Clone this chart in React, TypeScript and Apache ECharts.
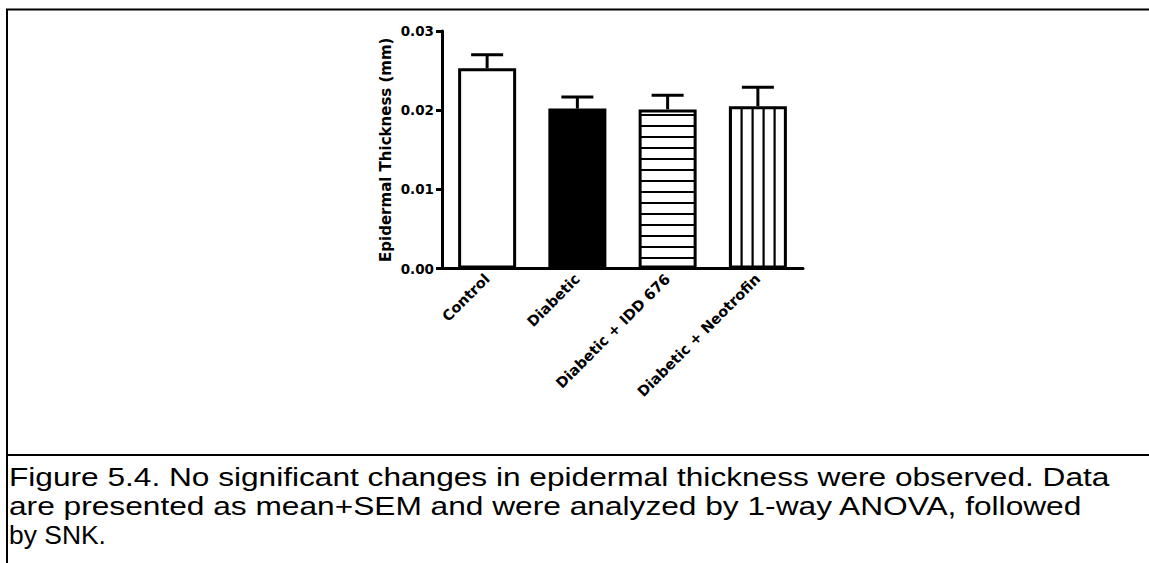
import React, { useEffect, useRef } from "react";
import * as echarts from "echarts";

// Groups, group means and standard errors (mm)
const categories = ["Control", "Diabetic", "Diabetic + IDD 676", "Diabetic + Neotrofin"];
const means = [0.0253, 0.0202, 0.0201, 0.0205];
const sems = [0.0017, 0.00145, 0.0018, 0.0024];
const fillKinds = ["white", "black", "hlines", "vlines"];

const yTicks = { min: 0, max: 0.03, interval: 0.01 };
const yAxisTitle = "Epidermal Thickness (mm)";
const captionLines = [
  "Figure 5.4. No significant changes in epidermal thickness were observed. Data",
  "are presented as mean+SEM and were analyzed by 1-way ANOVA, followed",
  "by SNK.",
];
// Width each caption line is set to (px)
const captionWidths = [1101, 1074, 97];

const W = 1149;
const H = 563;
const BOLD_FONT = '"DejaVu Sans", sans-serif';
const CAPTION_FONT = '"Liberation Sans", Arial, sans-serif';
const CAPTION_SIZE = 25.5;

// Builds a repeating stripe tile (horizontal or vertical lines on white)
function stripePattern(vertical: boolean) {
  const size = 11;
  const c = document.createElement("canvas");
  c.width = size;
  c.height = size;
  const ctx = c.getContext("2d")!;
  ctx.fillStyle = "#ffffff";
  ctx.fillRect(0, 0, size, size);
  ctx.fillStyle = "#000000";
  if (vertical) ctx.fillRect(3.5, 0, 2.2, size);
  else ctx.fillRect(0, 4, size, 2);
  return {
    image: c.toDataURL(),
    imageWidth: size,
    imageHeight: size,
    repeat: "repeat",
  } as any;
}

function fillFor(kind: string) {
  if (kind === "black") return "#000000";
  if (kind === "hlines") return stripePattern(false);
  if (kind === "vlines") return stripePattern(true);
  return "#ffffff";
}

function measure(text: string, font: string) {
  const ctx = document.createElement("canvas").getContext("2d")!;
  ctx.font = font;
  return ctx.measureText(text).width;
}

export default function App() {
  const ref = useRef<HTMLDivElement>(null);

  useEffect(() => {
    if (!ref.current) return;
    const chart = echarts.init(ref.current, null, { renderer: "svg" });

    const barData = means.map((v, i) => ({
      value: v,
      itemStyle: { color: fillFor(fillKinds[i]), borderColor: "#000", borderWidth: 3 },
    }));
    const errData = means.map((v, i) => [i, v, sems[i]]);

    const captionFont = `${CAPTION_SIZE}px ${CAPTION_FONT}`;
    const captionCenters = [477.5, 506.5, 535];
    const caption = captionLines.map((t, i) => {
      const natural = measure(t, captionFont) || 1;
      return {
        type: "text",
        x: 9,
        y: captionCenters[i],
        scaleX: captionWidths[i] / natural,
        style: {
          x: 0,
          y: 0,
          text: t,
          fill: "#000",
          font: captionFont,
          align: "left",
          verticalAlign: "middle",
        },
      };
    });

    chart.setOption({
      animation: false,
      backgroundColor: "#ffffff",
      grid: { left: 442, right: W - 803, top: 31, bottom: H - 268.5, containLabel: false },
      xAxis: {
        type: "category",
        data: categories,
        axisLine: { show: true, lineStyle: { color: "#000", width: 3 } },
        axisTick: { show: false },
        axisLabel: {
          rotate: 45,
          margin: 8,
          color: "#000",
          fontFamily: BOLD_FONT,
          fontWeight: "bold",
          fontSize: 14.5,
          interval: 0,
        },
        splitLine: { show: false },
      },
      yAxis: {
        type: "value",
        min: yTicks.min,
        max: yTicks.max,
        interval: yTicks.interval,
        name: yAxisTitle,
        nameLocation: "middle",
        nameRotate: 90,
        nameGap: 49,
        nameTextStyle: {
          color: "#000",
          fontFamily: BOLD_FONT,
          fontWeight: "bold",
          fontSize: 15,
        },
        axisLine: { show: true, lineStyle: { color: "#000", width: 3 } },
        axisTick: { show: true, length: 6, lineStyle: { color: "#000", width: 3 } },
        axisLabel: {
          margin: 8,
          color: "#000",
          fontFamily: BOLD_FONT,
          fontWeight: "bold",
          fontSize: 13.5,
          formatter: (v: number) => v.toFixed(2),
        },
        splitLine: { show: false },
      },
      series: [
        {
          type: "custom",
          z: 1,
          data: errData,
          renderItem: (params: any, api: any) => {
            const x = api.value(0);
            const m = api.value(1);
            const s = api.value(2);
            const base = api.coord([x, m]);
            const top = api.coord([x, m + s]);
            const half = 16;
            const style = { stroke: "#000", lineWidth: 3 };
            return {
              type: "group",
              children: [
                { type: "line", shape: { x1: base[0], y1: base[1], x2: top[0], y2: top[1] }, style },
                { type: "line", shape: { x1: top[0] - half, y1: top[1], x2: top[0] + half, y2: top[1] }, style },
              ],
            };
          },
        },
        {
          type: "bar",
          z: 2,
          barWidth: 58,
          data: barData,
        },
      ],
      graphic: [
        { type: "line", shape: { x1: 6, y1: 9.5, x2: W, y2: 9.5 }, style: { stroke: "#000", lineWidth: 2 } },
        { type: "line", shape: { x1: 7, y1: 9, x2: 7, y2: H }, style: { stroke: "#000", lineWidth: 2 } },
        { type: "line", shape: { x1: 6, y1: 455, x2: W, y2: 455 }, style: { stroke: "#000", lineWidth: 2 } },
        ...caption,
      ],
    });

    return () => chart.dispose();
  }, []);

  return (
    <div
      ref={ref}
      style={{ position: "fixed", left: 0, top: 0, width: W, height: H, background: "#fff" }}
    />
  );
}
